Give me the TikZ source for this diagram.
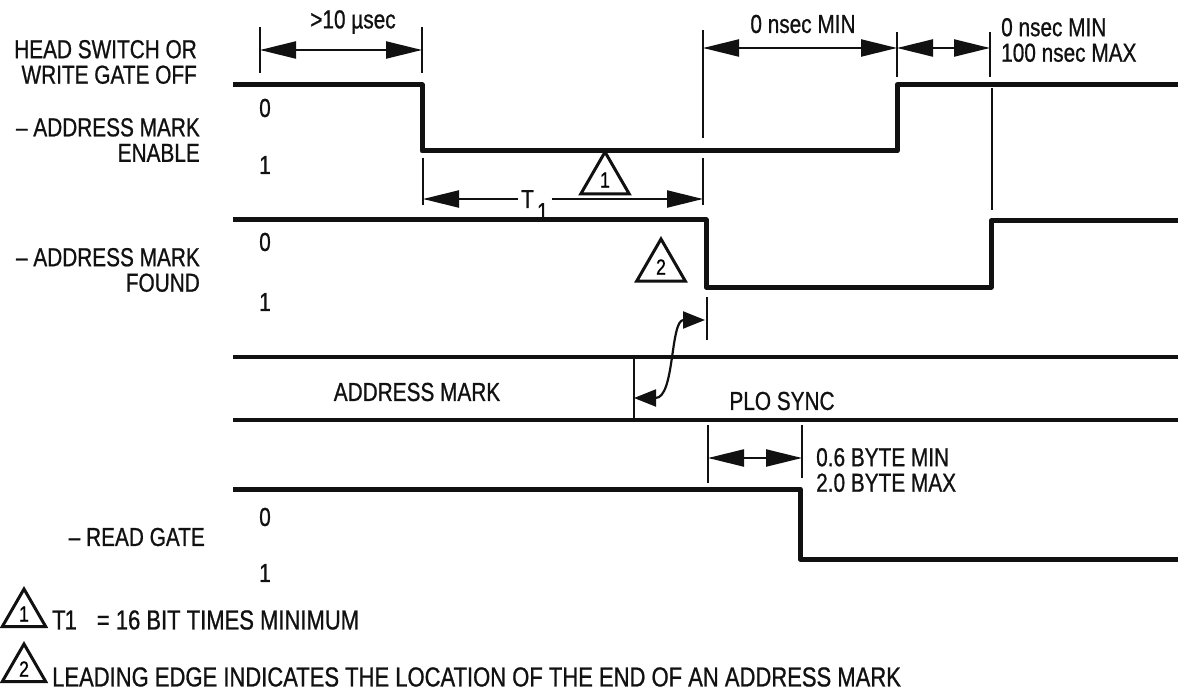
\documentclass[tikz,border=0pt]{standalone}
\usepackage{fontspec}
\setmainfont{Liberation Sans}[FakeStretch=0.8, FakeBold=0.8]
\usetikzlibrary{arrows.meta, shapes.geometric}
\definecolor{ink}{HTML}{111111}

\begin{document}
\begin{tikzpicture}[
    x=1pt, y=-1pt,
    >={Triangle[length=36pt, width=17pt]},
    lbl/.style={font=\fontsize{26}{25.5}\selectfont, text=ink, inner sep=0pt},
    siglabel/.style={lbl, align=right, anchor=east},
    note/.style={lbl, align=left, anchor=west},
    keytext/.style={note, font=\fontsize{27.5}{27}\selectfont},
    signal/.style={draw=ink, line width=5pt, line join=round},
    tickline/.style={draw=ink, line width=2.2pt},
    dim/.style={<->, draw=ink, line width=2.2pt},
    notetri/.style={draw=ink, line width=3pt, regular polygon, regular polygon sides=3,
        inner sep=0pt, font=\fontsize{22}{22}\selectfont},
]
\useasboundingbox (0,0) rectangle (1178,695);

% ============================================================
%  Signal names and levels
% ============================================================
\node[siglabel] (hsw) at (197, 62) {HEAD SWITCH OR\\WRITE GATE OFF};
\node[siglabel] (ame) at (200, 140) {\textendash\ ADDRESS MARK\\ENABLE};
\node[siglabel] (amf) at (200, 270) {\textendash\ ADDRESS MARK\\FOUND};
\node[siglabel] (rdg) at (205, 537) {\textendash\ READ GATE};

\foreach \yy/\lv [count=\k] in {108/0, 165/1, 242/0, 302/1, 517/0, 573/1} {
    \node[lbl] (lv\k) at (265, \yy) {\lv};
}

% ============================================================
%  Waveforms
% ============================================================
\draw[signal] (233,85) -- (422,85) -- (422,151) -- (897,151) -- (897,85) -- (1178,85);
\draw[signal] (233,220) -- (706,220) -- (706,287) -- (991,287) -- (991,221) -- (1178,221);

% data bus
\draw[signal, line width=4.5pt] (233,357) -- (1178,357);
\draw[signal, line width=4.5pt] (233,420) -- (1178,420);
\draw[signal, line width=2.8pt] (634,357) -- (634,420);
\node[lbl] (amark) at (417, 392) {ADDRESS MARK};
\node[lbl] (plo) at (782, 401) {PLO SYNC};

\draw[signal] (233,489) -- (800,489) -- (800,559) -- (1178,559);

% ============================================================
%  Timing ticks
% ============================================================
\draw[tickline] (260,27) -- (260,73);
\draw[tickline] (422,27) -- (422,73);
\draw[tickline] (703,30) -- (703,138);
\draw[tickline] (703,158) -- (703,205);
\draw[tickline] (423,158) -- (423,205);
\draw[tickline] (897,32) -- (897,77);
\draw[tickline] (990,32) -- (990,77);
\draw[tickline] (992,88) -- (992,210);
\draw[tickline] (707,297) -- (707,340);
\draw[tickline] (708,425) -- (708,483);
\draw[tickline] (802,425) -- (802,478);

% ============================================================
%  Dimensions
% ============================================================
\coordinate (usL) at (260,50);
\coordinate (usR) at (422,50);
\coordinate (nsA) at (703,48);
\coordinate (nsB) at (897,48);
\coordinate (nsC) at (990,48);
\coordinate (t1L) at (423,199);
\coordinate (t1R) at (703,199);
\coordinate (syL) at (708,458);
\coordinate (syR) at (802,458);
\coordinate (amfEdge) at (705,320);
\coordinate (busEdge) at (634,398);

\draw[dim] (usL) -- (usR);
\node[lbl] (usTxt) at (353, 22) {>10 µsec};

\draw[dim] (nsA) -- (nsB);
\node[lbl] (nsTxt) at (803, 24) {0 nsec MIN};

\draw[dim] (nsB) -- (nsC);
\node[note] (nsMax) at (1001, 40) {0 nsec MIN\\100 nsec MAX};

\node[lbl, anchor=base west, inner sep=3pt] (t1Txt) at (518, 208)
    {T\hspace{3pt}\raisebox{-13pt}{1}};
\draw[tickline, ->] (t1Txt.west |- t1L) -- (t1L);
\draw[tickline, ->] (t1Txt.east |- t1R) -- (t1R);

\draw[dim] (syL) -- (syR);
\node[note] (syTxt) at (816, 470) {0.6 BYTE MIN\\2.0 BYTE MAX};

\draw[tickline, {Triangle[length=22pt, width=17pt]}-{Triangle[length=22pt, width=17pt]}]
    (amfEdge) .. controls (670,320) and (675,398) .. (busEdge);

% notes in the picture
\node[notetri, minimum size=56pt] (n1) at (605, 180) {1};
\node[notetri, minimum size=56pt] (n2) at (661, 267) {2};

% ============================================================
%  Legend
% ============================================================
\node[notetri, minimum size=50pt] (k1) at (24, 614) {1};
\node[keytext] (k1Txt) at (52, 620) {T\kern-1pt1\hspace{20pt}= 16 BIT TIMES MINIMUM};

\node[notetri, minimum size=50pt] (k2) at (24, 669) {2};
\node[keytext] (k2Txt) at (52, 677) {LEADING EDGE INDICATES THE LOCATION OF THE END OF AN ADDRESS MARK};

\end{tikzpicture}
\end{document}
